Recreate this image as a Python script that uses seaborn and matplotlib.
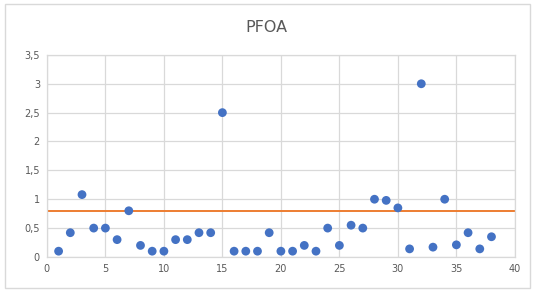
#!/usr/bin/env python3
"""
PFOA measurements scatter with limit line
"""

import pandas as pd
import matplotlib
matplotlib.use("Agg")
import matplotlib.pyplot as plt
from matplotlib.patches import Rectangle
from matplotlib.ticker import FuncFormatter
import seaborn as sns

# ------------------------------------------------------------
# Data
# ------------------------------------------------------------
sample_no = list(range(1, 39))
pfoa = [0.1, 0.42, 1.08, 0.5, 0.5, 0.3, 0.8, 0.2, 0.1, 0.1,
        0.3, 0.3, 0.42, 0.42, 2.5, 0.1, 0.1, 0.1, 0.42, 0.1,
        0.1, 0.2, 0.1, 0.5, 0.2, 0.55, 0.5, 1.0, 0.98, 0.85,
        0.14, 3.0, 0.17, 1.0, 0.21, 0.42, 0.14, 0.35]
limit_x = [0, 40]
limit_y = [0.8, 0.8]

df = pd.DataFrame({"sample": sample_no, "pfoa": pfoa})
limit = pd.DataFrame({"x": limit_x, "y": limit_y})

# ------------------------------------------------------------
# Plot
# ------------------------------------------------------------
sns.set_style("white")
fig = plt.figure(figsize=(5.33, 2.92), dpi=100)
ax = fig.add_axes([0.088, 0.12, 0.878, 0.692])

sns.lineplot(data=limit, x="x", y="y", color="#ED7D31", linewidth=1.4, ax=ax, zorder=2)
sns.scatterplot(data=df, x="sample", y="pfoa", color="#4472C4", s=40,
                edgecolor="none", ax=ax, zorder=3)

ax.set_xlim(0, 40)
ax.set_ylim(0, 3.5)
ax.set_xticks(range(0, 41, 5))
ax.set_yticks([0, 0.5, 1, 1.5, 2, 2.5, 3, 3.5])
ax.yaxis.set_major_formatter(FuncFormatter(lambda v, p: f"{v:g}".replace(".", ",")))
ax.grid(True, color="#d9d9d9", linewidth=0.9)
ax.set_axisbelow(True)
for s in ax.spines.values():
    s.set_color("#d9d9d9")
    s.set_linewidth(0.9)
ax.tick_params(labelsize=7, colors="#595959", length=0, pad=5)
ax.set_xlabel("")
ax.set_ylabel("")

fig.text(0.5, 0.905, "PFOA", ha="center", va="center", fontsize=11.5, color="#595959")

fig.patches.append(Rectangle((0.01, 0.012), 0.985, 0.975, transform=fig.transFigure,
                             fill=False, edgecolor="#d9d9d9", linewidth=1))

fig.savefig("out.png", dpi=100)
